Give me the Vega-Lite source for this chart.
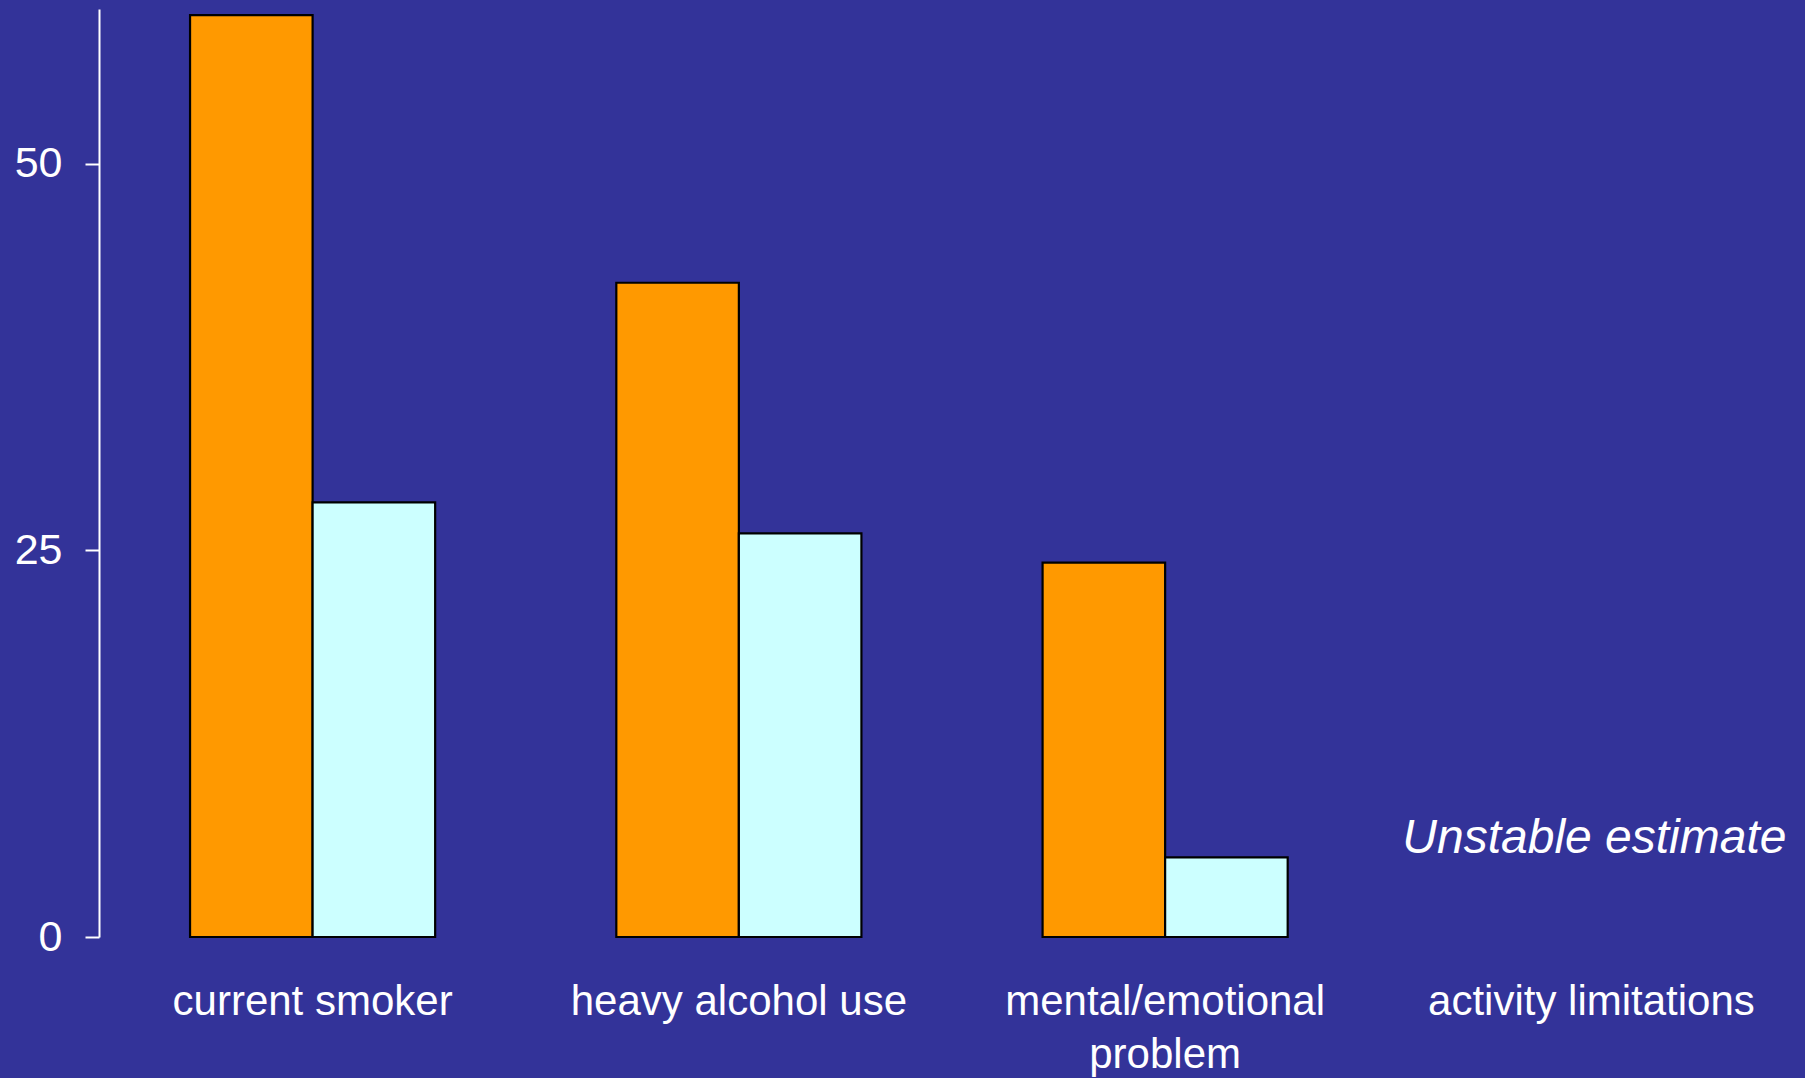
{
  "$schema": "https://vega.github.io/schema/vega-lite/v6.json",
  "width": 1706,
  "height": 928,
  "autosize": "none",
  "padding": {"left": 99, "top": 9, "right": 0, "bottom": 141},
  "background": "#333399",
  "config": {
    "view": {"stroke": null},
    "font": "Liberation Sans"
  },
  "datasets": {
    "bars": [
      {"category": "current smoker", "series": "A", "value": 59.6},
      {"category": "current smoker", "series": "B", "value": 28.1},
      {"category": "heavy alcohol use", "series": "A", "value": 42.3},
      {"category": "heavy alcohol use", "series": "B", "value": 26.1},
      {"category": "mental/emotional problem", "series": "A", "value": 24.2},
      {"category": "mental/emotional problem", "series": "B", "value": 5.15}
    ],
    "notes": [
      {"category": "activity limitations", "value": 5.45, "note": "Unstable estimate"}
    ]
  },
  "layer": [
    {
      "data": {"name": "bars"},
      "mark": {"type": "bar", "stroke": "#000000", "strokeWidth": 2.2, "opacity": 1},
      "encoding": {
        "x": {
          "field": "category",
          "type": "nominal",
          "sort": null,
          "scale": {
            "domain": ["current smoker", "heavy alcohol use", "mental/emotional problem", "activity limitations"],
            "paddingInner": 0.425,
            "paddingOuter": 0.2136
          },
          "axis": {
            "title": null,
            "domain": false,
            "ticks": false,
            "tickSize": 0,
            "labelAngle": 0,
            "labelColor": "#ffffff",
            "labelFontSize": 42,
            "labelFont": "Liberation Sans",
            "labelPadding": 44,
            "labelBaseline": "top",
            "labelLineHeight": 53,
            "labelLimit": 0,
            "labelExpr": "datum.value == 'mental/emotional problem' ? ['mental/emotional', 'problem'] : datum.value"
          }
        },
        "xOffset": {
          "field": "series",
          "type": "nominal",
          "scale": {"domain": ["A", "B"], "paddingInner": 0, "paddingOuter": 0}
        },
        "y": {
          "field": "value",
          "type": "quantitative",
          "scale": {"domain": [0, 60], "nice": false},
          "axis": {
            "title": null,
            "values": [0, 25, 50],
            "grid": false,
            "domainColor": "#ffffff",
            "domainWidth": 2,
            "tickColor": "#ffffff",
            "tickWidth": 2,
            "tickSize": 14,
            "labelColor": "#ffffff",
            "labelFontSize": 43,
            "labelFont": "Liberation Sans",
            "labelPadding": 23
          }
        },
        "fill": {
          "field": "series",
          "type": "nominal",
          "scale": {"domain": ["A", "B"], "range": ["#FF9900", "#CCFFFF"]},
          "legend": null
        }
      }
    },
    {
      "data": {"name": "notes"},
      "mark": {
        "type": "text",
        "color": "#ffffff",
        "fontSize": 48,
        "fontStyle": "italic",
        "font": "Liberation Sans",
        "baseline": "alphabetic",
        "align": "center",
        "dx": 3
      },
      "encoding": {
        "x": {"field": "category", "type": "nominal"},
        "y": {"field": "value", "type": "quantitative"},
        "text": {"field": "note"}
      }
    }
  ]
}
